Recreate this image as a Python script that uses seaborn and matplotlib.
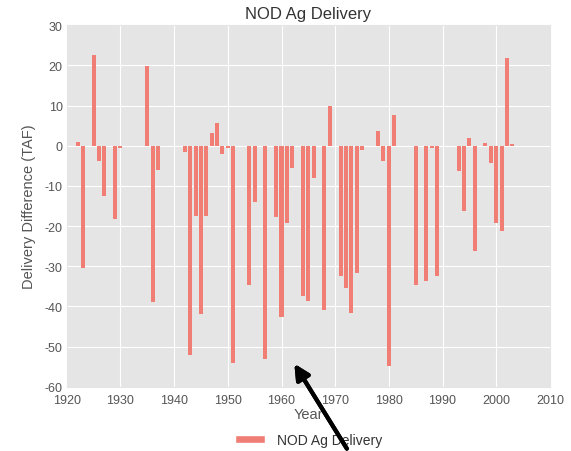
import numpy as np
import pandas as pd
import seaborn as sns
import matplotlib.pyplot as plt
from matplotlib.patches import Patch

# water years and delivery difference (TAF)
years = list(range(1922, 2004))
delivery_diff = [
    1.0, -30.5, 0, 22.6, -3.9, -12.4, 0, -18.2, -0.5,        # 1922-1930
    0, 0, 0, 0, 19.8, -39.0, -6.0, 0, 0, 0,                  # 1931-1940
    0, -1.5, -52.0, -17.6, -42.0, -17.6, 3.2, 5.6, -2.0, -0.5,  # 1941-1950
    -54.0, 0, 0, -34.6, -13.9, 0, -53.2, 0, -17.8, -42.5,    # 1951-1960
    -19.2, -5.5, 0, -37.5, -38.7, -8.0, 0, -40.8, 9.8, 0,    # 1961-1970
    -32.5, -35.4, -41.6, -31.7, -1.0, 0, 0, 3.6, -3.9, -54.9,  # 1971-1980
    7.7, 0, 0, 0, -34.6, 0, -33.7, -0.5, -32.5, 0,           # 1981-1990
    0, 0, -6.4, -16.3, 1.9, -26.3, 0, 0.8, -4.3, -19.2,      # 1991-2000
    -21.3, 21.8, 0.5,                                        # 2001-2003
]
series_name = "NOD Ag Delivery"
bar_color = "#F07E74"

df = pd.DataFrame({"Year": years, "Diff": delivery_diff})

sns.set_style("darkgrid", {"axes.facecolor": "#E5E5E5", "grid.color": "white",
                           "axes.edgecolor": "#E5E5E5"})
plt.rcParams["font.family"] = ["Liberation Sans", "DejaVu Sans"]
plt.rcParams["axes.unicode_minus"] = False

fig = plt.figure(figsize=(5.71, 4.52), dpi=100)
ax = fig.add_axes([0.117, 0.142, 0.846, 0.800])

sns.barplot(data=df, x="Year", y="Diff", native_scale=True, color=bar_color,
            saturation=1, width=0.75, linewidth=0, errorbar=None, ax=ax)

ax.set_xlim(1920, 2010)
ax.set_ylim(-60, 30)
ax.set_xticks(range(1920, 2011, 10))
ax.set_yticks(range(-60, 31, 10))
ax.tick_params(colors="#555555", labelsize=9, length=0)
ax.tick_params(axis="x", pad=5)
ax.tick_params(axis="y", pad=3)
ax.set_title("NOD Ag Delivery", fontsize=12, color="#333333", pad=5)
ax.set_xlabel("Year", fontsize=10.5, color="#555555", labelpad=1)
ax.set_ylabel("Delivery Difference (TAF)", fontsize=10.5, color="#555555", labelpad=6)

ax.legend(handles=[Patch(facecolor=bar_color, label=series_name)],
          loc="center", bbox_to_anchor=(0.5, -0.146), frameon=False,
          fontsize=10, handlelength=2.2, handleheight=0.55, labelcolor="#333333")

# the black pointer arrow drawn over the screenshot
fig.add_artist(plt.annotate("", xy=(0.513, 0.198), xytext=(0.61, 0.0),
                            xycoords="figure fraction", textcoords="figure fraction",
                            arrowprops=dict(arrowstyle="-|>,head_length=0.9,head_width=0.45",
                                            color="black", lw=3)))

fig.savefig("out.png", dpi=100)
